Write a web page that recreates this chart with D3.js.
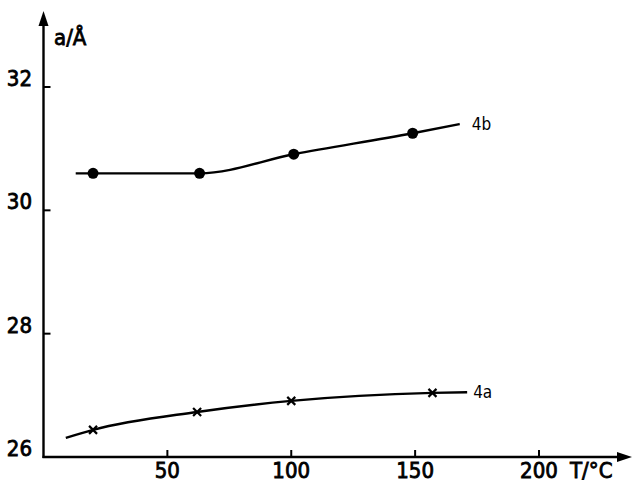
<!DOCTYPE html>
<html>
<head>
<meta charset="utf-8">
<script src="https://cdn.jsdelivr.net/npm/d3@7/dist/d3.min.js"></script>
<style>
    body { margin: 0; background: #fff; }
    svg text { font-family: "DejaVu Sans Condensed", "DejaVu Sans", sans-serif; fill: #000; }
    svg text.lab { stroke: #000; stroke-width: 0.8px; }
</style>
</head>
<body>
<div id="chart"></div>
<script>
    "use strict";

    // measured points (T in degC, a in Angstrom)
    var t4a = [20, 62, 100, 157],
        a4a = [26.44, 26.73, 26.91, 27.04];
    var t4b = [20, 63, 101, 149],
        a4b = [30.60, 30.60, 30.91, 31.25];

    // hand-drawn curves running through the points
    var curveT4a = [9, 20, 62, 100, 157, 171],
        curveA4a = [26.31, 26.44, 26.73, 26.91, 27.04, 27.05];
    var curveT4b = [13, 20, 63, 101, 149, 168],
        curveA4b = [30.60, 30.60, 30.60, 30.91, 31.25, 31.40];

    var xTicks = [50, 100, 150, 200],
        yTicks = [26, 28, 30, 32];

    var width = 634, height = 484;

    var x = d3.scaleLinear().domain([0, 200]).range([43.5, 539]);
    var y = d3.scaleLinear().domain([26, 32]).range([457, 87]);

    var svg = d3.select("#chart").append("svg")
        .attr("width", width)
        .attr("height", height);

    var x0 = x(0), y0 = y(26);

    // axes with arrowheads
    svg.append("line")
        .attr("x1", x0).attr("y1", y0 + 1)
        .attr("x2", x0).attr("y2", 20)
        .attr("stroke", "#000").attr("stroke-width", 2.4);
    svg.append("path")
        .attr("d", "M" + x0 + ",11 L" + (x0 - 5) + ",26 L" + (x0 + 5) + ",26 Z")
        .attr("fill", "#000");

    svg.append("line")
        .attr("x1", x0 - 1).attr("y1", y0)
        .attr("x2", 622).attr("y2", y0)
        .attr("stroke", "#000").attr("stroke-width", 2.4);
    svg.append("path")
        .attr("d", "M632," + y0 + " L617," + (y0 - 5) + " L617," + (y0 + 5) + " Z")
        .attr("fill", "#000");

    // ticks
    svg.selectAll("line.xt").data(xTicks).enter().append("line")
        .attr("class", "xt")
        .attr("x1", function(d) { return x(d); }).attr("x2", function(d) { return x(d); })
        .attr("y1", y0).attr("y2", y0 - 7)
        .attr("stroke", "#000").attr("stroke-width", 2);
    svg.selectAll("text.xt").data(xTicks).enter().append("text")
        .attr("class", "xt lab")
        .attr("x", function(d) { return x(d); })
        .attr("y", 478)
        .attr("text-anchor", "middle")
        .attr("font-size", 22)
        .text(function(d) { return d; });

    svg.selectAll("line.yt").data(yTicks.slice(1)).enter().append("line")
        .attr("class", "yt")
        .attr("x1", x0).attr("x2", x0 + 7)
        .attr("y1", function(d) { return y(d); }).attr("y2", function(d) { return y(d); })
        .attr("stroke", "#000").attr("stroke-width", 2);
    svg.selectAll("text.yt").data(yTicks).enter().append("text")
        .attr("class", "yt lab")
        .attr("x", 32)
        .attr("y", function(d) { return y(d) - 1; })
        .attr("text-anchor", "end")
        .attr("font-size", 22)
        .text(function(d) { return d; });

    // axis titles
    svg.append("text")
        .attr("class", "lab")
        .attr("x", 54).attr("y", 45)
        .attr("font-size", 22)
        .text("a/Å");
    svg.append("text")
        .attr("class", "lab")
        .attr("x", 570).attr("y", 478)
        .attr("font-size", 22)
        .text("T/°C");

    // curves
    var line = d3.line()
        .x(function(d) { return x(d[0]); })
        .y(function(d) { return y(d[1]); })
        .curve(d3.curveMonotoneX);

    svg.append("path")
        .datum(d3.zip(curveT4a, curveA4a))
        .attr("d", line)
        .attr("fill", "none").attr("stroke", "#000").attr("stroke-width", 2.4);
    svg.append("path")
        .datum(d3.zip(curveT4b, curveA4b))
        .attr("d", line)
        .attr("fill", "none").attr("stroke", "#000").attr("stroke-width", 2.4);

    // markers: crosses for 4a, dots for 4b
    var cross = svg.selectAll("g.cross").data(d3.zip(t4a, a4a)).enter().append("g")
        .attr("class", "cross")
        .attr("transform", function(d) { return "translate(" + x(d[0]) + "," + y(d[1]) + ")"; });
    cross.append("path")
        .attr("d", "M-4,-4 L4,4 M-4,4 L4,-4")
        .attr("stroke", "#000").attr("stroke-width", 2.2);

    svg.selectAll("circle.dot").data(d3.zip(t4b, a4b)).enter().append("circle")
        .attr("class", "dot")
        .attr("cx", function(d) { return x(d[0]); })
        .attr("cy", function(d) { return y(d[1]); })
        .attr("r", 5.5)
        .attr("fill", "#000");

    // series labels at curve ends
    svg.append("text")
        .attr("x", x(curveT4a[curveT4a.length - 1]) + 6)
        .attr("y", y(curveA4a[curveA4a.length - 1]) + 6)
        .attr("font-size", 17)
        .text("4a");
    svg.append("text")
        .attr("x", x(curveT4b[curveT4b.length - 1]) + 12)
        .attr("y", y(curveA4b[curveA4b.length - 1]) + 6)
        .attr("font-size", 17)
        .text("4b");
</script>
</body>
</html>
